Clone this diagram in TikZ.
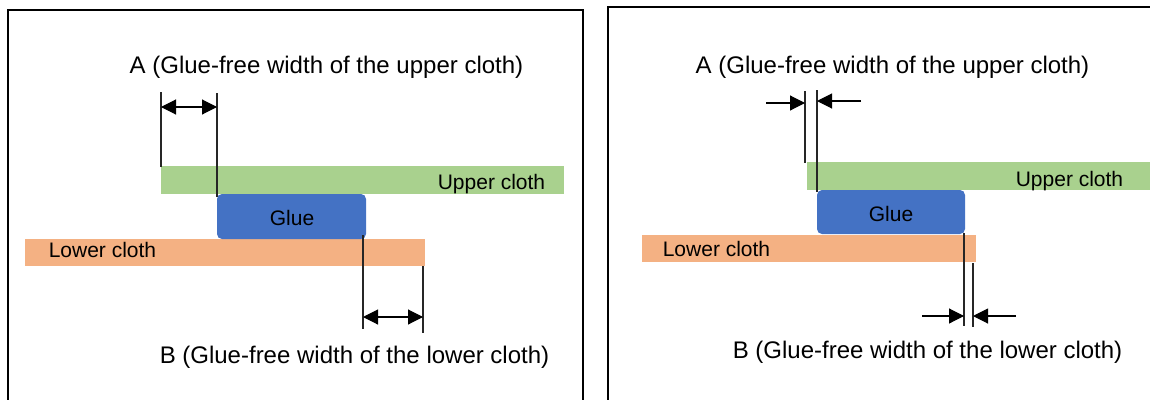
\documentclass[tikz,border=0pt]{standalone}
\usepackage{fontspec}
\setmainfont{Liberation Sans}
\usetikzlibrary{arrows.meta}
\definecolor{upcol}{HTML}{A9D18E}
\definecolor{gluecol}{HTML}{4472C4}
\definecolor{lowcol}{HTML}{F4B183}
\tikzset{
  bar/.style={inner sep=0pt, outer sep=0pt, anchor=north west},
  upbar/.style={bar, fill=upcol},
  lowbar/.style={bar, fill=lowcol},
  gluebox/.style={bar, fill=gluecol, rounded corners=5pt},
  bigtext/.style={inner sep=0pt, anchor=base, font=\fontsize{24}{28}\selectfont},
  smalltext/.style={inner sep=0pt, anchor=base, font=\fontsize{21}{25}\selectfont},
  frameline/.style={line width=2pt, black},
  extline/.style={line width=1.1pt, black!85},
  dimarrow/.style={line width=1.1pt, black},
  tip/.tip={Triangle[length=15pt,width=15pt]}
}
\begin{document}
\begin{tikzpicture}[x=1pt,y=-1pt]
\useasboundingbox (0,0) rectangle (1150,399);
\clip (0,0) rectangle (1150,399);
% frames
\draw[frameline] (8,420) -- (8,10) -- (583,10) -- (583,420);
\draw[frameline] (608,420) -- (608,7) -- (1170,7);

% ===== left panel =====
\node[upbar, minimum width=403pt, minimum height=28pt] (up1) at (161,166) {};
\node[lowbar, minimum width=400pt, minimum height=27pt] (low1) at (25,239) {};
\node[gluebox, minimum width=149pt, minimum height=45pt] (glue1) at (217,194) {};
\node[smalltext] (glue1t) at (292,225) {Glue};
\node[smalltext] (up1t) at (491.5,189) {Upper cloth};
\node[smalltext] (low1t) at (102.5,257) {Lower cloth};
\node[bigtext] (A1) at (326.5,73) {A (Glue-free width of the upper cloth)};
\node[bigtext] (B1) at (354.5,363) {B (Glue-free width of the lower cloth)};

\coordinate (a1t) at (161,92);  \coordinate (a1b) at (161,167);
\coordinate (a2t) at (217,93);  \coordinate (a2b) at (217,197);
\coordinate (a1m) at (161,107); \coordinate (a2m) at (217,107);
\draw[extline] (a1t) -- (a1b);
\draw[extline] (a2t) -- (a2b);
\draw[dimarrow, {tip}-{tip}] (a1m) -- (a2m);

\coordinate (b1t) at (363,235); \coordinate (b1b) at (363,329);
\coordinate (b2t) at (423,266); \coordinate (b2b) at (423,333);
\coordinate (b1m) at (363,317); \coordinate (b2m) at (423,317);
\draw[extline] (b1t) -- (b1b);
\draw[extline] (b2t) -- (b2b);
\draw[dimarrow, {tip}-{tip}] (b1m) -- (b2m);

% ===== right panel =====
\node[upbar, minimum width=360pt, minimum height=28pt] (up2) at (807,162) {};
\node[lowbar, minimum width=334pt, minimum height=27pt] (low2) at (642,235) {};
\node[gluebox, minimum width=148pt, minimum height=44pt] (glue2) at (817,190) {};
\node[smalltext] (glue2t) at (891,221) {Glue};
\node[smalltext] (up2t) at (1069.5,186) {Upper cloth};
\node[smalltext] (low2t) at (716.5,256) {Lower cloth};
\node[bigtext] (A2) at (892.5,73) {A (Glue-free width of the upper cloth)};
\node[bigtext] (B2) at (927.5,358) {B (Glue-free width of the lower cloth)};

\coordinate (c1t) at (805,91);  \coordinate (c1b) at (805,163);
\coordinate (c2t) at (817,90);  \coordinate (c2b) at (817,192);
\coordinate (c1s) at (766,103); \coordinate (c1m) at (805,103);
\coordinate (c2s) at (861,101); \coordinate (c2m) at (817,101);
\draw[extline] (c1t) -- (c1b);
\draw[extline] (c2t) -- (c2b);
\draw[dimarrow, -{tip}] (c1s) -- (c1m);
\draw[dimarrow, -{tip}] (c2s) -- (c2m);

\coordinate (d1t) at (964,233); \coordinate (d1b) at (964,326);
\coordinate (d2t) at (973,263); \coordinate (d2b) at (973,327);
\coordinate (d1s) at (922,316); \coordinate (d1m) at (964,316);
\coordinate (d2s) at (1016,316); \coordinate (d2m) at (973,316);
\draw[extline] (d1t) -- (d1b);
\draw[extline] (d2t) -- (d2b);
\draw[dimarrow, -{tip}] (d1s) -- (d1m);
\draw[dimarrow, -{tip}] (d2s) -- (d2m);
\end{tikzpicture}
\end{document}
